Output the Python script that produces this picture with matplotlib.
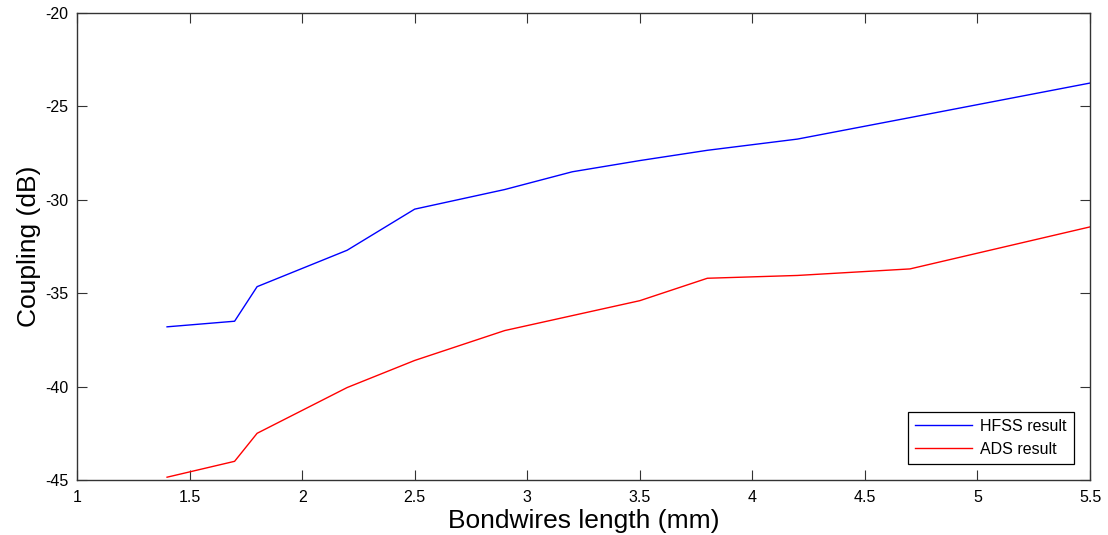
import matplotlib
matplotlib.use('Agg')
import matplotlib.pyplot as plt

# bondwire length (mm)
lengths = [1.4, 1.7, 1.8, 2.2, 2.5, 2.9, 3.2, 3.5, 3.8, 4.2, 4.7, 5.5]
# coupling (dB)
hfss = [-36.8, -36.5, -34.65, -32.7, -30.5, -29.45, -28.5, -27.9, -27.35, -26.75, -25.6, -23.75]
ads = [-44.85, -44.0, -42.5, -40.05, -38.6, -37.0, -36.2, -35.4, -34.2, -34.05, -33.7, -31.45]

plt.rcParams['font.family'] = ['Liberation Sans', 'DejaVu Sans']
plt.rcParams['axes.unicode_minus'] = False

fig = plt.figure(figsize=(11.08, 5.35), dpi=100)
ax = fig.add_axes([0.0695, 0.1028, 0.9143, 0.8729])

ax.plot(lengths, hfss, color='#0000ff', lw=1.0, label='HFSS result')
ax.plot(lengths, ads, color='#ff0000', lw=1.0, label='ADS result')

ax.set_xlim(1, 5.5)
ax.set_ylim(-45, -20)
ax.set_xticks([1, 1.5, 2, 2.5, 3, 3.5, 4, 4.5, 5, 5.5])
ax.set_xticklabels(['1', '1.5', '2', '2.5', '3', '3.5', '4', '4.5', '5', '5.5'])
ax.set_yticks([-45, -40, -35, -30, -25, -20])
ax.tick_params(direction='in', length=7, width=0.8, labelsize=11.5,
               top=True, right=True, color='#333333')
ax.tick_params(axis='x', pad=7)
ax.tick_params(axis='y', pad=6)
for sp in ax.spines.values():
    sp.set_color('#333333')
    sp.set_linewidth(1.0)

ax.set_xlabel('Bondwires length (mm)', fontsize=19, labelpad=3)
ax.set_ylabel('Coupling (dB)', fontsize=19, labelpad=3)

leg = ax.legend(loc='lower right', fontsize=11.5, fancybox=False,
                edgecolor='black', framealpha=1, borderaxespad=1.0,
                handlelength=3.6, handletextpad=0.5, labelspacing=0.5,
                borderpad=0.45)
leg.get_frame().set_linewidth(0.9)

fig.savefig('out.png', dpi=100)
